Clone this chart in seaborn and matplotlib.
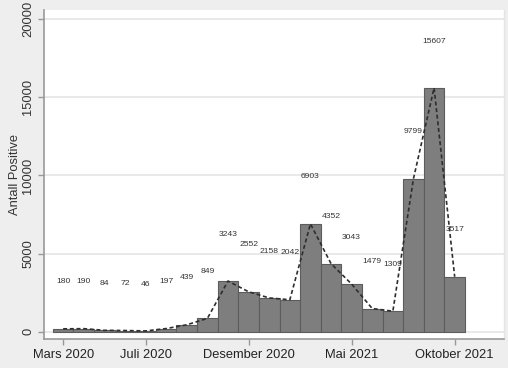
import numpy as np
import pandas as pd
import seaborn as sns
import matplotlib.pyplot as plt

# monthly positives, Mars 2020 - Oktober 2021
months = ["Mars 2020", "April 2020", "Mai 2020", "Juni 2020", "Juli 2020",
          "August 2020", "September 2020", "Oktober 2020", "November 2020",
          "Desember 2020", "Januar 2021", "Februar 2021", "Mars 2021",
          "April 2021", "Mai 2021", "Juni 2021", "Juli 2021", "August 2021",
          "September 2021", "Oktober 2021"]
positive = [180, 190, 84, 72, 46, 197, 439, 849, 3243, 2552, 2158, 2042,
            6903, 4352, 3043, 1479, 1309, 9799, 15607, 3517]
tick_months = ["Mars 2020", "Juli 2020", "Desember 2020", "Mai 2021", "Oktober 2021"]
y_ticks = [0, 5000, 10000, 15000, 20000]

df = pd.DataFrame({"month": months, "positive": positive})
df["idx"] = np.arange(len(df))

sns.set_style("white")
plt.rcParams["font.family"] = ["Liberation Sans", "DejaVu Sans"]

fig = plt.figure(figsize=(5.08, 3.68), dpi=100, facecolor="#eeeeee")
ax = fig.add_axes([0.087, 0.078, 0.905, 0.895])
ax.set_facecolor("white")

sns.barplot(data=df, x="month", y="positive", order=months, width=1,
            color="#7e7e7e", saturation=1, edgecolor="#5c5c5c", linewidth=0.8,
            ax=ax, zorder=2)
sns.lineplot(data=df, x="idx", y="positive", color="#2e2e2e", linewidth=1.2,
             linestyle=(0, (2.4, 1.6)), ax=ax, zorder=3)

for i, v in enumerate(positive):
    ax.text(i, v + 3000, str(v), ha="center", va="center", fontsize=6.1,
            color="#333333", zorder=4)

ax.set_xlim(-0.92, 21.39)
ax.set_ylim(-490, 20600)
ax.set_yticks(y_ticks)
ax.set_yticklabels([str(t) for t in y_ticks], rotation=90, va="center",
                   fontsize=9.3, color="#333333")
ax.set_xticks([months.index(m) for m in tick_months])
ax.set_xticklabels(tick_months, fontsize=9.3, color="#222222")
ax.grid(axis="y", color="#e9e9e9", linewidth=1.4, zorder=0)
ax.set_axisbelow(True)

ax.set_xlabel("")
ax.set_ylabel("Antall Positive", fontsize=9.3, color="#333333", labelpad=1)
ax.tick_params(axis="both", length=4, width=1, color="#999999", pad=3,
               left=True, bottom=True)

for side in ["left", "bottom"]:
    ax.spines[side].set_color("#999999")
    ax.spines[side].set_linewidth(1.2)
ax.spines["top"].set_visible(False)
ax.spines["right"].set_color("#e4e4e4")
ax.spines["right"].set_linewidth(1)

plt.savefig("out.png", dpi=100, facecolor=fig.get_facecolor())
